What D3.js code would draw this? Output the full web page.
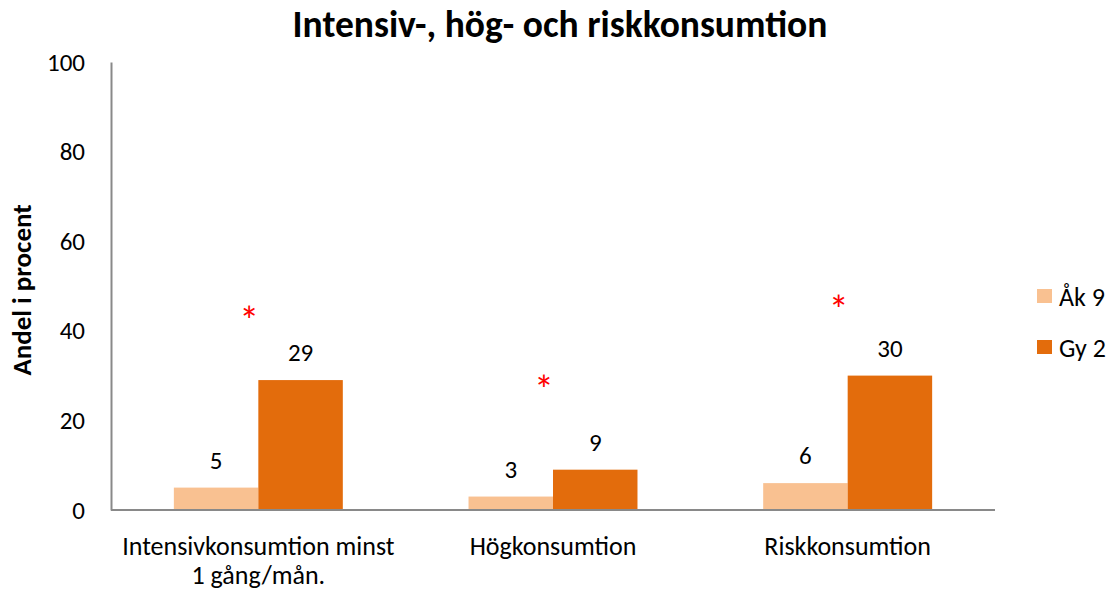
<!DOCTYPE html>
<html>
<head>
<meta charset="utf-8">
<script src="https://cdn.jsdelivr.net/npm/d3@7"></script>
<style>
  body { margin: 0; background: #fff; }
  text { font-family: Carlito, Calibri, Lato, "Liberation Sans", sans-serif; }
</style>
</head>
<body>
<div id="chart"></div>
<script>
var categories = [["Intensivkonsumtion minst", "1 gång/mån."], ["Högkonsumtion"], ["Riskkonsumtion"]];
var seriesNames = ["Åk 9", "Gy 2"];
var ak9 = [5, 3, 6];
var gy2 = [29, 9, 30];
// level (in percent units) of the red significance asterisk per category
var starLevels = [44, 28.5, 46.5];
var yTicks = [0, 20, 40, 60, 80, 100];

var colors = {"Åk 9": "#f9c191", "Gy 2": "#e36c0c"};
var fontStack = "Carlito, Calibri, Lato, 'Liberation Sans', sans-serif";

var svgWidth = 1113,
    svgHeight = 590,
    margin = {top: 62, right: 118, bottom: 80, left: 111},
    vizWidth = svgWidth - margin.left - margin.right,
    vizHeight = svgHeight - margin.top - margin.bottom;

var svg = d3.select("#chart").append("svg")
    .attr("width", svgWidth)
    .attr("height", svgHeight);

svg.append("text")
    .attr("x", 560)
    .attr("y", 37)
    .attr("text-anchor", "middle")
    .style("font-size", "37.5px")
    .style("font-weight", "bold")
    .text("Intensiv-, hög- och riskkonsumtion");

var canvas = svg.append("g")
    .attr("transform", "translate(" + margin.left + "," + margin.top + ")");

var x0 = d3.scaleBand()
    .domain(d3.range(categories.length))
    .range([0, vizWidth]);

var x1 = d3.scaleBand()
    .domain(seriesNames)
    .range([0, x0.bandwidth()])
    .paddingOuter(0.744)
    .paddingInner(0);

var y = d3.scaleLinear()
    .domain([0, 100])
    .range([vizHeight, 0]);

// y axis
var yAxis = canvas.append("g")
    .call(d3.axisLeft(y).tickValues(yTicks).tickSize(0).tickPadding(26));
yAxis.select(".domain").attr("stroke", "#898989").attr("stroke-width", 2);
yAxis.selectAll("text")
    .style("font-size", "25px")
    .style("font-family", fontStack)
    .attr("fill", "#000");

svg.append("text")
    .attr("transform", "translate(31," + 290 + ") rotate(-90)")
    .attr("text-anchor", "middle")
    .style("font-size", "27px")
    .style("font-weight", "bold")
    .text("Andel i procent");

var rows = categories.map(function(c, i) {
  return {i: i, values: [{s: "Åk 9", v: ak9[i]}, {s: "Gy 2", v: gy2[i]}]};
});

var groups = canvas.selectAll("g.group").data(rows)
  .join("g")
    .classed("group", true)
    .attr("transform", function(d) { return "translate(" + x0(d.i) + ",0)"; });

groups.selectAll("rect").data(function(d) { return d.values; })
  .join("rect")
    .attr("x", function(d) { return x1(d.s); })
    .attr("width", x1.bandwidth())
    .attr("y", function(d) { return y(d.v); })
    .attr("height", function(d) { return vizHeight - y(d.v); })
    .attr("fill", function(d) { return colors[d.s]; });

groups.selectAll("text.val").data(function(d) { return d.values; })
  .join("text")
    .classed("val", true)
    .attr("x", function(d) { return x1(d.s) + x1.bandwidth() / 2; })
    .attr("y", function(d) { return y(d.v) - 19; })
    .attr("text-anchor", "middle")
    .style("font-size", "25px")
    .text(function(d) { return d.v; });

// significance markers
groups.append("text")
    .attr("x", function(d) { return x0.bandwidth() / 2 - 9; })
    .attr("y", function(d) { return y(starLevels[d.i]) + 22; })
    .attr("text-anchor", "middle")
    .attr("fill", "#ff0000")
    .style("font-size", "40px")
    .text("*");

// x axis
canvas.append("line")
    .attr("x1", 0)
    .attr("x2", vizWidth)
    .attr("y1", vizHeight)
    .attr("y2", vizHeight)
    .attr("stroke", "#898989")
    .attr("stroke-width", 2);

var xLabels = canvas.selectAll("text.xLabel").data(categories)
  .join("text")
    .classed("xLabel", true)
    .attr("text-anchor", "middle")
    .attr("transform", function(d, i) { return "translate(" + (x0(i) + x0.bandwidth() / 2) + "," + (vizHeight + 45) + ")"; })
    .style("font-size", "26px");
xLabels.selectAll("tspan").data(function(d) { return d; })
  .join("tspan")
    .attr("x", 0)
    .attr("dy", function(d, i) { return i === 0 ? 0 : 29; })
    .text(function(d) { return d; });

// legend
var legend = svg.selectAll("g.legend").data(seriesNames)
  .join("g")
    .classed("legend", true)
    .attr("transform", function(d, i) { return "translate(1037," + (289 + i * 51) + ")"; });
legend.append("rect")
    .attr("width", 15)
    .attr("height", 14)
    .attr("fill", function(d) { return colors[d]; });
legend.append("text")
    .attr("x", 22)
    .attr("y", 17)
    .style("font-size", "26px")
    .text(function(d) { return d; });
</script>
</body>
</html>
